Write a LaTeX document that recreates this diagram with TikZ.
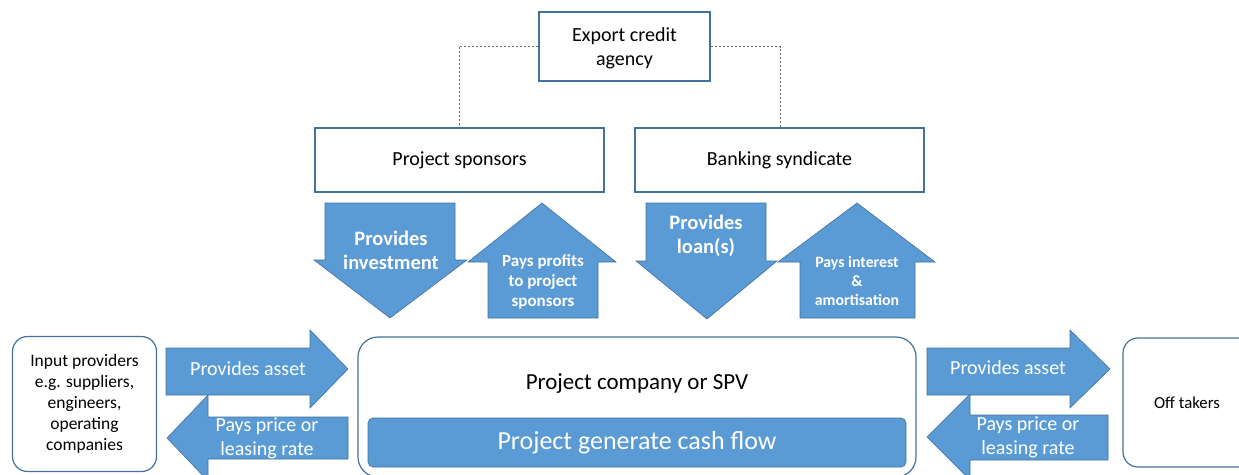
\documentclass[tikz,border=0pt]{standalone}
\usepackage{fontspec}
\setmainfont{Carlito}
\definecolor{blu}{RGB}{91,155,213}
\definecolor{edge}{RGB}{65,113,156}

\tikzset{
	box/.style={draw=edge, line width=1.2pt, fill=white, align=center, inner sep=0pt},
	roundbox/.style={box, rounded corners=15pt},
	blockarrow/.style={fill=blu, draw=edge, line width=0.6pt, line join=miter},
	arrowtext/.style={text=white, align=center, inner sep=0pt},
	link/.style={draw=gray!80!black, line width=0.8pt, dash pattern=on 2pt off 2pt}
}

\begin{document}
\begin{tikzpicture}[x=1pt,y=-1pt,font=\fontsize{20}{24}\selectfont]
	\useasboundingbox (0,0) rectangle (1239,474);
	\clip (0,0) rectangle (1239,474);

	% boxes on top
	\node[box, minimum width=171pt, minimum height=69pt, text depth=-3pt] (eca)	at (624.5,46.5)	{Export credit\\agency};
	\node[box, minimum width=289pt, minimum height=64pt] (sponsors)	at (459.5,160)	{Project sponsors};
	\node[box, minimum width=289pt, minimum height=64pt] (banks)	at (779.5,160)	{Banking syndicate};

	\coordinate (sl) at (459,128);
	\coordinate (sr) at (780,128);
	\draw[link]		(eca.west) -| (sl);
	\draw[link]		(eca.east) -| (sr);

	% boxes at the bottom
	\node[roundbox, minimum width=144pt, minimum height=135pt, font=\fontsize{17.5}{21}\selectfont] (input) at (84.5,404)
		{Input providers\\e.g. suppliers,\\engineers,\\operating\\companies};
	\node[roundbox, rounded corners=20pt, minimum width=558pt, minimum height=140pt] (spv) at (637,407) {};
	\node[font=\fontsize{23}{24}\selectfont] (spvtext) at (637,384) {Project company or SPV};
	\node[box, fill=blu, rounded corners=5pt, line width=0.6pt, minimum width=538pt, minimum height=49pt,
		text=white, font=\fontsize{26}{28}\selectfont] (cash) at (637,442.5) {Project generate cash flow};
	\node[roundbox, minimum width=137pt, minimum height=129pt] (offtake) at (1191.5,402.5) {};
	\node[font=\fontsize{16.8}{20}\selectfont] (offtext) at (1187,403) {Off takers};

	% arrows between sponsors, banks and the SPV
	\draw[blockarrow]	(325,203) -- (455,203) -- (455,260) -- (467,260) -- (390,318) -- (314,260) -- (325,260) -- cycle;
	\draw[blockarrow]	(542,203) -- (616,262) -- (598,262) -- (598,318) -- (488,318) -- (488,262) -- (468,262) -- cycle;
	\draw[blockarrow]	(646,203) -- (766,203) -- (766,261) -- (777,261) -- (707,319) -- (636,261) -- (646,261) -- cycle;
	\draw[blockarrow]	(857,203) -- (935,262) -- (915,262) -- (915,318) -- (800,318) -- (800,262) -- (778,262) -- cycle;

	\node[arrowtext, font=\bfseries\fontsize{20.5}{24}\selectfont] (invest)	at (391,250)	{Provides\\investment};
	\node[arrowtext, font=\bfseries\fontsize{17}{20}\selectfont] (profits)	at (543,282)	{Pays profits\\to project\\sponsors};
	\node[arrowtext, font=\bfseries\fontsize{20.5}{24}\selectfont] (loans)	at (706,236)	{Provides\\loan(s)};
	\node[arrowtext, font=\bfseries\fontsize{15.8}{19}\selectfont] (interest)	at (857,281)	{Pays interest\\\&\\amortisation};

	% arrows on the left and right
	\draw[blockarrow]	(166,348) -- (310,348) -- (310,330) -- (348,369) -- (310,408) -- (310,395) -- (166,395) -- cycle;
	\draw[blockarrow]	(167,438) -- (208,395) -- (208,417) -- (348,417) -- (348,459) -- (208,459) -- (208,481) -- cycle;
	\draw[blockarrow]	(927,348) -- (1070,348) -- (1070,330) -- (1110,369) -- (1070,408) -- (1070,395) -- (927,395) -- cycle;
	\draw[blockarrow]	(927,437) -- (970,394) -- (970,415) -- (1108,415) -- (1108,460) -- (970,460) -- (970,480) -- cycle;

	\node[arrowtext] (assetl)	at (248,369)	{Provides asset};
	\node[arrowtext] (pricel)	at (267,438)	{Pays price or\\leasing rate};
	\node[arrowtext] (assetr)	at (1008,368)	{Provides asset};
	\node[arrowtext] (pricer)	at (1028,437)	{Pays price or\\leasing rate};
\end{tikzpicture}
\end{document}
